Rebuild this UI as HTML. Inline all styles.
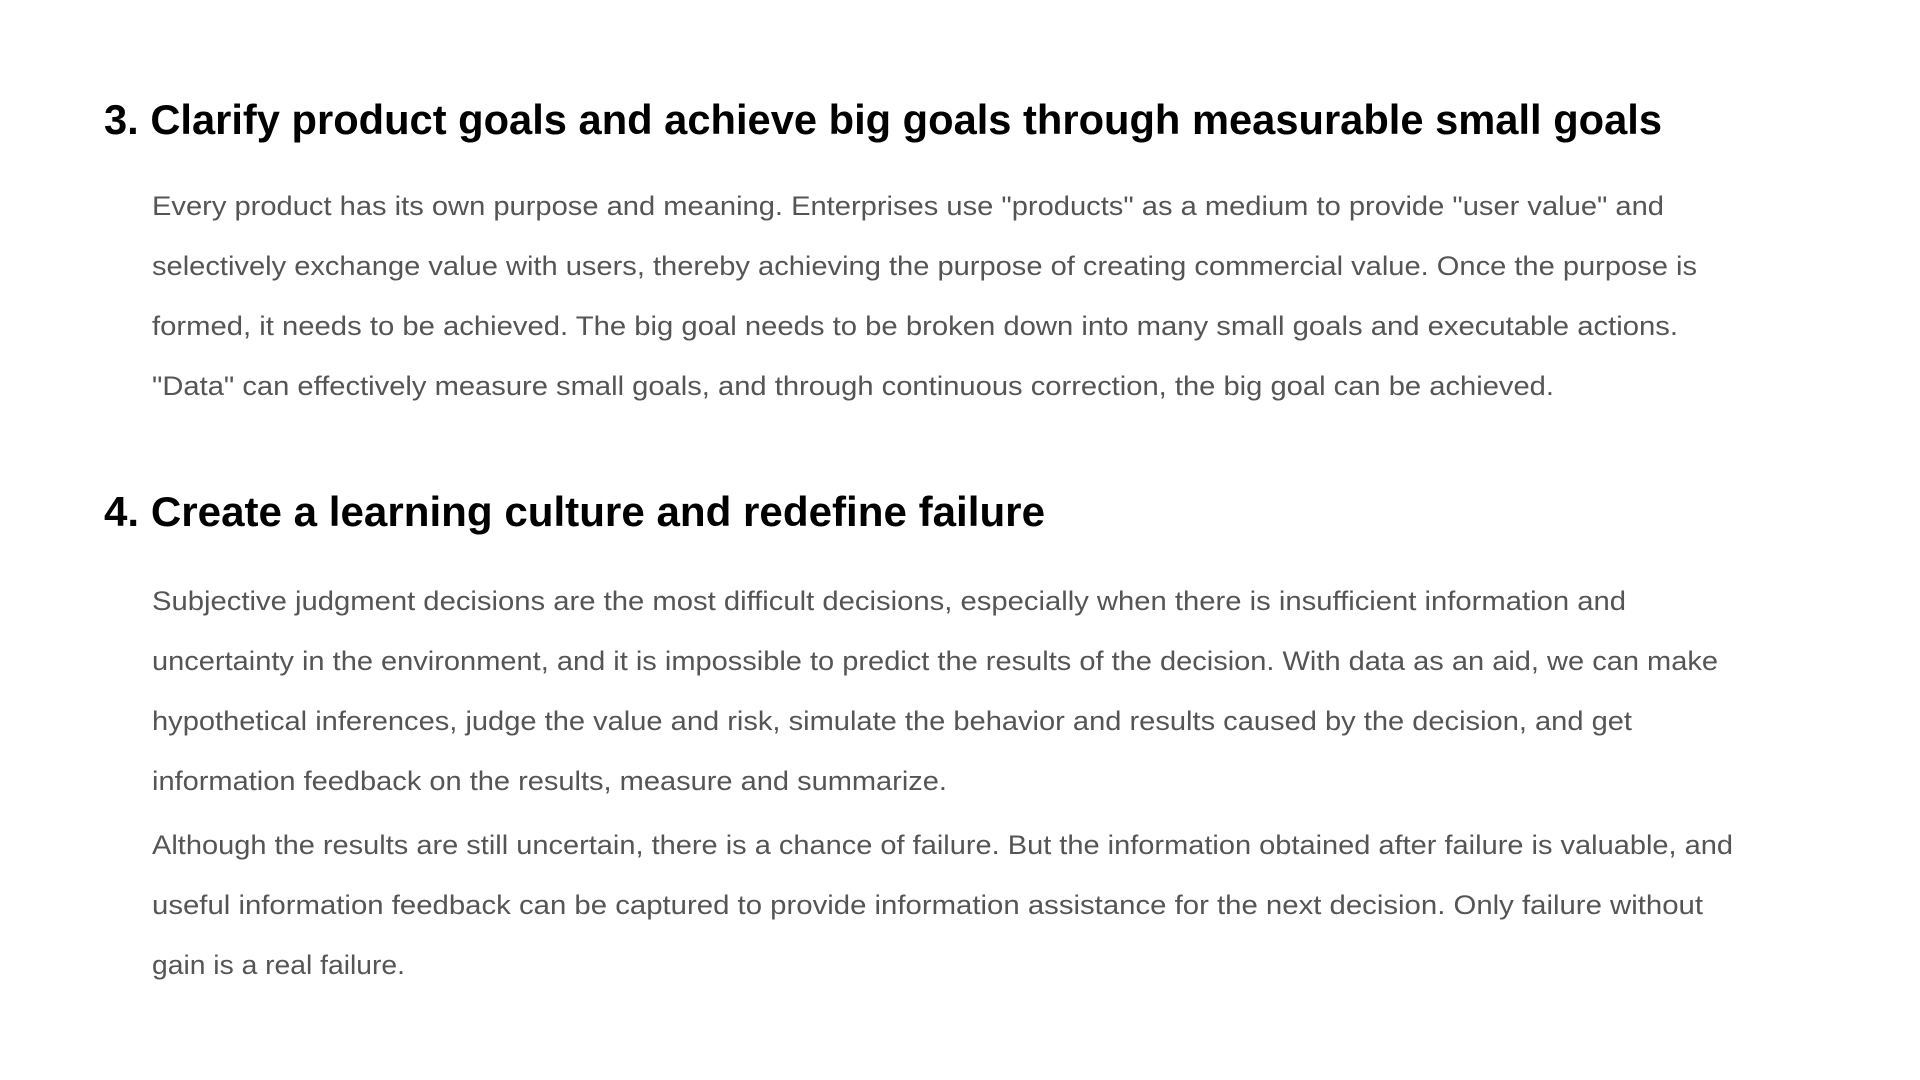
<!DOCTYPE html>
<html><head><meta charset="utf-8"><style>
html,body{margin:0;padding:0;background:#fff;}
svg{display:block;}
.h{font-family:"Liberation Sans",sans-serif;font-weight:bold;font-size:42px;fill:#000;}
.b{font-family:"Liberation Sans",sans-serif;font-size:27px;fill:#555;}
</style></head><body>
<svg width="1920" height="1080" viewBox="0 0 1920 1080">
<text class="h" x="104" y="134" textLength="1558" lengthAdjust="spacingAndGlyphs">3. Clarify product goals and achieve big goals through measurable small goals</text>
<g>
<text class="b" x="152" y="215" textLength="1512" lengthAdjust="spacingAndGlyphs">Every product has its own purpose and meaning. Enterprises use "products" as a medium to provide "user value" and</text>
<text class="b" x="152" y="275" textLength="1545" lengthAdjust="spacingAndGlyphs">selectively exchange value with users, thereby achieving the purpose of creating commercial value. Once the purpose is</text>
<text class="b" x="152" y="335" textLength="1526" lengthAdjust="spacingAndGlyphs">formed, it needs to be achieved. The big goal needs to be broken down into many small goals and executable actions.</text>
<text class="b" x="152" y="395" textLength="1402" lengthAdjust="spacingAndGlyphs">"Data" can effectively measure small goals, and through continuous correction, the big goal can be achieved.</text>
</g>
<text class="h" x="104" y="526" textLength="941" lengthAdjust="spacingAndGlyphs">4. Create a learning culture and redefine failure</text>
<g>
<text class="b" x="152" y="610" textLength="1474" lengthAdjust="spacingAndGlyphs">Subjective judgment decisions are the most difficult decisions, especially when there is insufficient information and</text>
<text class="b" x="152" y="670" textLength="1566" lengthAdjust="spacingAndGlyphs">uncertainty in the environment, and it is impossible to predict the results of the decision. With data as an aid, we can make</text>
<text class="b" x="152" y="730" textLength="1480" lengthAdjust="spacingAndGlyphs">hypothetical inferences, judge the value and risk, simulate the behavior and results caused by the decision, and get</text>
<text class="b" x="152" y="790" textLength="795" lengthAdjust="spacingAndGlyphs">information feedback on the results, measure and summarize.</text>
</g>
<g>
<text class="b" x="152" y="854" textLength="1581" lengthAdjust="spacingAndGlyphs">Although the results are still uncertain, there is a chance of failure. But the information obtained after failure is valuable, and</text>
<text class="b" x="152" y="914" textLength="1551" lengthAdjust="spacingAndGlyphs">useful information feedback can be captured to provide information assistance for the next decision. Only failure without</text>
<text class="b" x="152" y="974" textLength="253" lengthAdjust="spacingAndGlyphs">gain is a real failure.</text>
</g>
</svg>
</body></html>
